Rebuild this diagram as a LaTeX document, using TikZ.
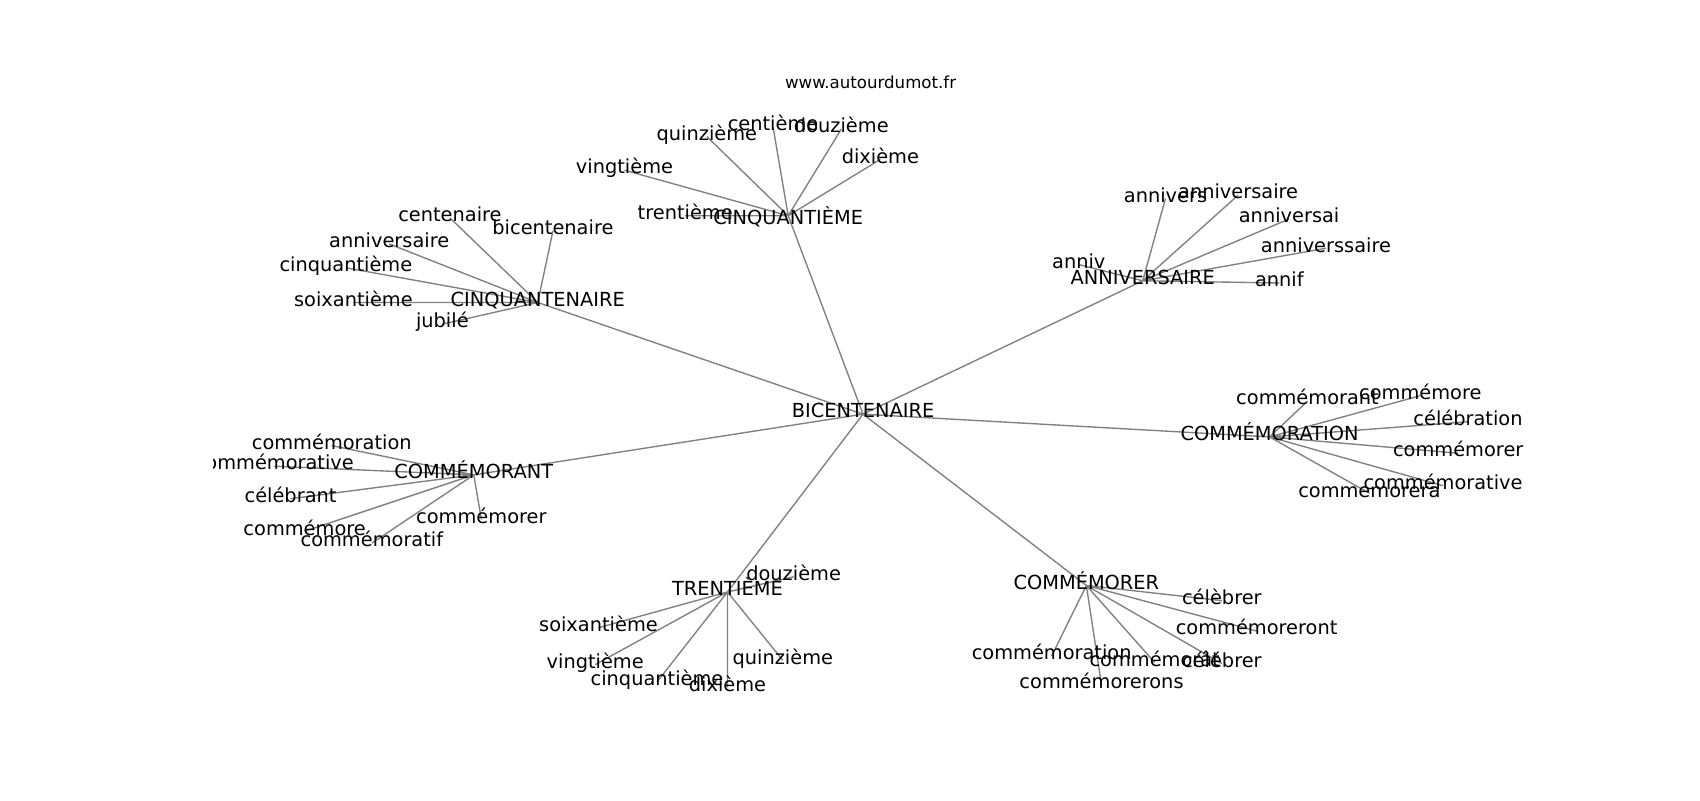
\documentclass[tikz,border=0pt]{standalone}
\usepackage{fontspec}
\setmainfont{DejaVu Sans}
\usetikzlibrary{backgrounds}

\begin{document}
\begin{tikzpicture}[x=0.75pt,y=0.75pt,yscale=-1,xscale=1,
	word/.style={font=\fontsize{13.4}{16}\selectfont, inner sep=0pt, text height=0.76em, text depth=0.24em},
	link/.style={draw={rgb, 255:red, 128; green, 128; blue, 128 }, line width=0.95pt}]
	\useasboundingbox (0,0) rectangle (1568,738);
	\clip (197,0) rectangle (1568,738);

	% Text Node
	\draw (803,78) node [font=\fontsize{11.5}{14}\selectfont, inner sep=0pt, text height=0.76em, text depth=0.24em]  (site) {www.autourdumot.fr};

	% Text Node
	\draw (796,382) node [word]  (bicent) {BICENTENAIRE};

	% Text Node
	\draw (727,199) node [word, text height=1.2em, text depth=0em]  (cinqme) {CINQUANTIÈME};
	\draw (652,126) node [word]  (cinqme1) {quinzième};
	\draw (713,117) node [word]  (cinqme2) {centième};
	\draw (776,119) node [word]  (cinqme3) {douzième};
	\draw (812,147) node [word]  (cinqme4) {dixième};
	\draw (576,157) node [word]  (cinqme5) {vingtième};
	\draw (632,199) node [word]  (cinqme6) {trentième};

	% Text Node
	\draw (496,279) node [word]  (cinqnr) {CINQUANTENAIRE};
	\draw (415,201) node [word]  (cinqnr1) {centenaire};
	\draw (510,213) node [word]  (cinqnr2) {bicentenaire};
	\draw (359,225) node [word]  (cinqnr3) {anniversaire};
	\draw (319,247) node [word]  (cinqnr4) {cinquantième};
	\draw (326,279) node [word]  (cinqnr5) {soixantième};
	\draw (408,299) node [word]  (cinqnr6) {jubilé};

	% Text Node
	\draw (1054,259) node [word]  (anniv) {ANNIVERSAIRE};
	\draw (1075,183) node [word]  (anniv1) {annivers};
	\draw (1142,180) node [word]  (anniv2) {anniversaire};
	\draw (1189,202) node [word]  (anniv3) {anniversai};
	\draw (1223,229) node [word]  (anniv4) {anniverssaire};
	\draw (995,244) node [word]  (anniv5) {anniv};
	\draw (1180,261) node [word]  (anniv6) {annif};

	% Text Node
	\draw (1171,403) node [word]  (commtion) {COMMÉMORATION};
	\draw (1206,370) node [word]  (commtion1) {commémorant};
	\draw (1310,365) node [word]  (commtion2) {commémore};
	\draw (1354,389) node [word]  (commtion3) {célébration};
	\draw (1345,418) node [word]  (commtion4) {commémorer};
	\draw (1331,448) node [word]  (commtion5) {commémorative};
	\draw (1263,455) node [word]  (commtion6) {commemorera};

	% Text Node
	\draw (437,438) node [word]  (commant) {COMMÉMORANT};
	\draw (306,411) node [word]  (commant1) {commémoration};
	\draw (253,430) node [word]  (commant2) {commémorative};
	\draw (268,460) node [word]  (commant3) {célébrant};
	\draw (281,490) node [word]  (commant4) {commémore};
	\draw (343,501) node [word]  (commant5) {commémoratif};
	\draw (444,479) node [word]  (commant6) {commémorer};

	% Text Node
	\draw (671,546) node [word]  (trente) {TRENTIÈME};
	\draw (732,532) node [word]  (trente1) {douzième};
	\draw (552,579) node [word]  (trente2) {soixantième};
	\draw (549,613) node [word]  (trente3) {vingtième};
	\draw (606,629) node [word]  (trente4) {cinquantième};
	\draw (671,634) node [word]  (trente5) {dixième};
	\draw (722,609) node [word]  (trente6) {quinzième};

	% Text Node
	\draw (1002,540) node [word]  (commrer) {COMMÉMORER};
	\draw (1127,554) node [word]  (commrer1) {célèbrer};
	\draw (1159,582) node [word]  (commrer2) {commémoreront};
	\draw (970,605) node [word]  (commrer3) {commémoration};
	\draw (1065,611) node [word]  (commrer4) {commémorât};
	\draw (1127,612) node [word]  (commrer5) {célébrer};
	\draw (1016,632) node [word]  (commrer6) {commémorerons};

	\begin{scope}[on background layer]
	%Straight Lines
	\draw [link] (bicent.center) -- (cinqme.center) (bicent.center) -- (cinqnr.center) (bicent.center) -- (anniv.center) (bicent.center) -- (commtion.center) (bicent.center) -- (commant.center) (bicent.center) -- (trente.center) (bicent.center) -- (commrer.center) ;
	%Straight Lines
	\draw [link] (cinqme.center) -- (cinqme1.center) (cinqme.center) -- (cinqme2.center) (cinqme.center) -- (cinqme3.center) (cinqme.center) -- (cinqme4.center) (cinqme.center) -- (cinqme5.center) (cinqme.center) -- (cinqme6.center) ;
	%Straight Lines
	\draw [link] (cinqnr.center) -- (cinqnr1.center) (cinqnr.center) -- (cinqnr2.center) (cinqnr.center) -- (cinqnr3.center) (cinqnr.center) -- (cinqnr4.center) (cinqnr.center) -- (cinqnr5.center) (cinqnr.center) -- (cinqnr6.center) ;
	%Straight Lines
	\draw [link] (anniv.center) -- (anniv1.center) (anniv.center) -- (anniv2.center) (anniv.center) -- (anniv3.center) (anniv.center) -- (anniv4.center) (anniv.center) -- (anniv5.center) (anniv.center) -- (anniv6.center) ;
	%Straight Lines
	\draw [link] (commtion.center) -- (commtion1.center) (commtion.center) -- (commtion2.center) (commtion.center) -- (commtion3.center) (commtion.center) -- (commtion4.center) (commtion.center) -- (commtion5.center) (commtion.center) -- (commtion6.center) ;
	%Straight Lines
	\draw [link] (commant.center) -- (commant1.center) (commant.center) -- (commant2.center) (commant.center) -- (commant3.center) (commant.center) -- (commant4.center) (commant.center) -- (commant5.center) (commant.center) -- (commant6.center) ;
	%Straight Lines
	\draw [link] (trente.center) -- (trente1.center) (trente.center) -- (trente2.center) (trente.center) -- (trente3.center) (trente.center) -- (trente4.center) (trente.center) -- (trente5.center) (trente.center) -- (trente6.center) ;
	%Straight Lines
	\draw [link] (commrer.center) -- (commrer1.center) (commrer.center) -- (commrer2.center) (commrer.center) -- (commrer3.center) (commrer.center) -- (commrer4.center) (commrer.center) -- (commrer5.center) (commrer.center) -- (commrer6.center) ;
	\end{scope}

\end{tikzpicture}
\end{document}
